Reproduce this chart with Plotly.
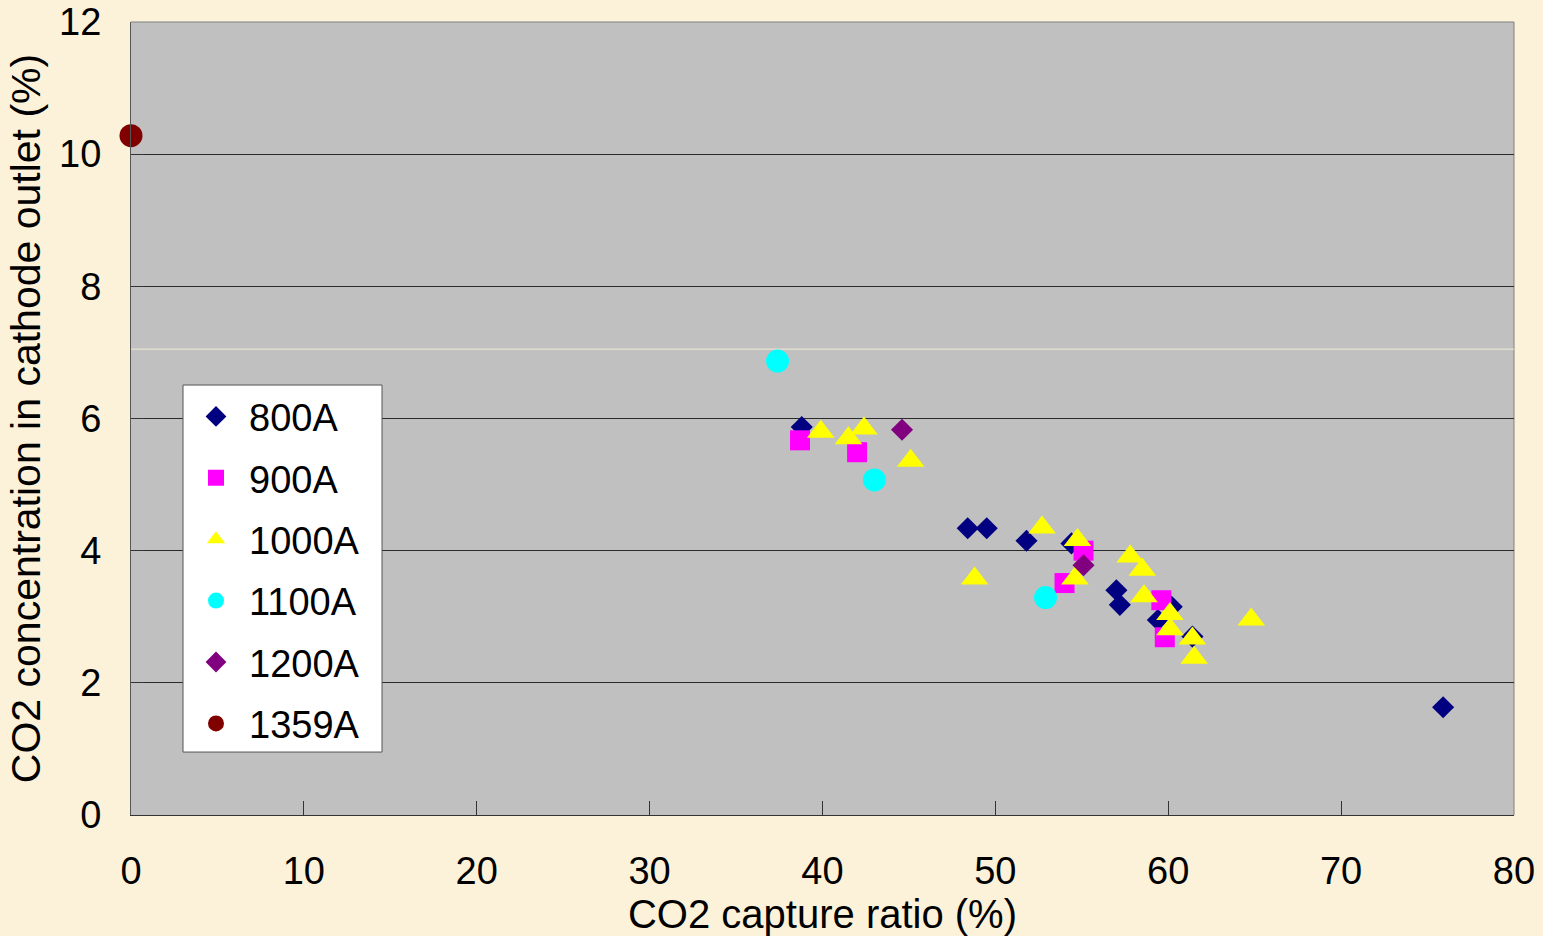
import plotly.graph_objects as go

# ---- data ----
s800_x = [38.8, 48.4, 49.5, 51.8, 54.4, 57.0, 57.2, 60.2, 59.4, 61.4, 75.9]
s800_y = [5.87, 4.34, 4.34, 4.15, 4.11, 3.40, 3.18, 3.15, 2.95, 2.70, 1.63]

s900_x = [38.7, 42.0, 55.1, 54.0, 59.6, 59.8]
s900_y = [5.67, 5.49, 4.00, 3.51, 3.25, 2.69]

s1000_x = [39.9, 41.5, 42.4, 45.1, 52.7, 54.75, 54.6, 48.8, 57.8, 58.5, 58.6, 60.1, 60.1, 61.4, 61.5, 64.8]
s1000_y = [5.80, 5.70, 5.85, 5.36, 4.35, 4.16, 3.58, 3.58, 3.91, 3.71, 3.31, 3.04, 2.81, 2.67, 2.38, 2.96]

s1100_x = [37.4, 43.0, 52.9]
s1100_y = [6.87, 5.07, 3.29]

s1200_x = [44.6, 55.1]
s1200_y = [5.83, 3.78]

s1359_x = [0.0]
s1359_y = [10.28]

series_names = ["800A", "900A", "1000A", "1100A", "1200A", "1359A"]
x_ticks = [0, 10, 20, 30, 40, 50, 60, 70, 80]
y_ticks = [0, 2, 4, 6, 8, 10, 12]

FONT = "Liberation Sans, Arial, sans-serif"

styles = [
    (s800_x, s800_y, "diamond", 17, "#000080"),
    (s900_x, s900_y, "square", 20, "#FF00FF"),
    (s1000_x, s1000_y, "triangle-up", 24, "#FFFF00"),
    (s1100_x, s1100_y, "circle", 23, "#00FFFF"),
    (s1200_x, s1200_y, "diamond", 17, "#800080"),
    (s1359_x, s1359_y, "circle", 23, "#800000"),
]

fig = go.Figure()
for name, (xs, ys, sym, sz, col) in zip(series_names, styles):
    fig.add_trace(go.Scatter(
        x=xs, y=ys, mode="markers", name=name, legendgroup=name,
        marker=dict(symbol=sym, size=sz, color=col, line=dict(width=0)),
        cliponaxis=False,
    ))

fig.update_layout(
    width=1543, height=936,
    paper_bgcolor="#FCF2DA",
    plot_bgcolor="#C0C0C0",
    margin=dict(l=131, r=29, t=22, b=121, autoexpand=False),
    font=dict(family=FONT, size=38, color="black"),
    showlegend=True,
    legend=dict(
        x=0.0376, y=0.542, xanchor="left", yanchor="top",
        bgcolor="rgba(0,0,0,0)", borderwidth=0,
        font=dict(family=FONT, size=38, color="black"),
        tracegroupgap=9,
        itemsizing="trace",
        itemwidth=56,
    ),
    xaxis=dict(
        range=[0, 80], tickvals=x_ticks, ticktext=[str(v) for v in x_ticks],
        showgrid=False, zeroline=False, automargin=False,
        showline=True, linecolor="#333333", linewidth=1, mirror=False,
        ticks="inside", ticklen=14, tickcolor="#333333",
        ticklabelstandoff=22,
        title=dict(text="CO2 capture ratio (%)", standoff=2,
                   font=dict(family=FONT, size=40)),
    ),
    yaxis=dict(
        range=[0, 12], tickvals=y_ticks, ticktext=[str(v) for v in y_ticks],
        showgrid=True, gridcolor="#2a2a2a", gridwidth=1, zeroline=False,
        automargin=False,
        showline=True, linecolor="#555555", linewidth=1,
        ticks="inside", ticklen=12, tickcolor="#333333",
        ticklabelstandoff=21,
        title=dict(text="CO2 concentration in cathode outlet (%)", standoff=5,
                   font=dict(family=FONT, size=41)),
    ),
    shapes=[
        dict(type="line", xref="paper", yref="paper", x0=1, x1=1, y0=0, y1=1,
             line=dict(color="#808080", width=1), layer="below"),
        dict(type="line", xref="paper", yref="paper", x0=0, x1=1, y0=1, y1=1,
             line=dict(color="#808080", width=1), layer="below"),
        dict(type="line", xref="paper", yref="y", x0=0, x1=1, y0=7.05, y1=7.05,
             line=dict(color="#F3EBD8", width=1), layer="below"),
        # legend frame
        dict(type="rect", xref="paper", yref="paper",
             x0=0.0376, x1=0.1815, y0=0.0794, y1=0.5422,
             fillcolor="white", line=dict(color="#555555", width=1), layer="above"),
    ],
)

fig.write_html(
    "out.html",
    config={"displayModeBar": False},
    post_script="document.body.style.margin='0';document.body.style.overflow='hidden';",
)
